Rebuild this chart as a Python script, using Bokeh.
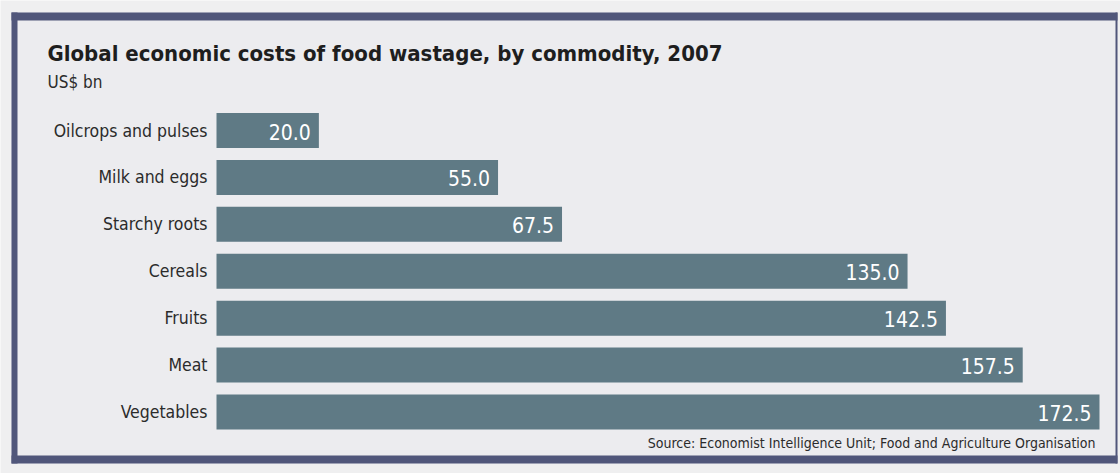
from bokeh.plotting import figure
from bokeh.models import Range1d, Label, ColumnDataSource
from bokeh.core.properties import value
from bokeh.embed import file_html
from bokeh.resources import INLINE

categories = ["Oilcrops and pulses", "Milk and eggs", "Starchy roots", "Cereals",
              "Fruits", "Meat", "Vegetables"]
costs = [20.0, 55.0, 67.5, 135.0, 142.5, 157.5, 172.5]
value_labels = ["20.0", "55.0", "67.5", "135.0", "142.5", "157.5", "172.5"]
title_text = "Global economic costs of food wastage, by commodity, 2007"
subtitle_text = "US$ bn"
source_text = "Source: Economist Intelligence Unit; Food and Agriculture Organisation"

W, H = 1120, 473
X0_PX, XMAX_PX = 216, 1099          # pixel of 0 and of max value
sx = (XMAX_PX - X0_PX) / max(costs)  # px per unit
Y0_PX, PITCH = 130.0, 46.92          # pixel centre of first bar, spacing

def px2x(px):
    return (px - X0_PX) / sx

def px2y(py):
    return (py - Y0_PX) / PITCH

FONT = "DejaVu Sans Condensed"
BAR = "#5f7a85"
FRAME = "#50567a"

p = figure(width=W, height=H, output_backend="svg", toolbar_location=None,
           x_range=Range1d(px2x(0), px2x(W)), y_range=Range1d(px2y(H), px2y(0)),
           min_border=0, min_border_left=0, min_border_right=0,
           min_border_top=0, min_border_bottom=0)
p.axis.visible = False
p.grid.visible = False
p.outline_line_color = None
p.background_fill_color = "#efeff0"
p.border_fill_color = "#efeff0"

# panel background and frame
p.quad(left=px2x(11), right=px2x(1117), top=px2y(12), bottom=px2y(463),
       fill_color="#ececef", line_color=None)
for l, r, t, b in [(11, 1117, 12, 20), (11, 1117, 455, 463), (11, 17, 12, 463), (1115, 1117, 12, 463)]:
    p.quad(left=px2x(l), right=px2x(r), top=px2y(t), bottom=px2y(b),
           fill_color=FRAME, line_color=None)

idx = list(range(len(categories)))
src = ColumnDataSource(dict(y=idx, cost=costs, cat=categories, lab=value_labels,
                            zero=[0] * len(costs)))

p.hbar(y="y", left="zero", right="cost", height=35 / PITCH, source=src,
       fill_color=BAR, line_color=None)

p.text(x="zero", y="y", text="cat", source=src, text_align="right",
       text_baseline="middle", x_offset=-9, text_font=value(FONT),
       text_font_size="17.5px", text_color="#2b2b2b")
p.text(x="cost", y="y", text="lab", source=src, text_align="right",
       text_baseline="middle", x_offset=-8, y_offset=1, text_font=value(FONT),
       text_font_size="21px", text_color="#ffffff")

p.add_layout(Label(x=px2x(47), y=px2y(53), text=title_text, text_font=FONT,
                   text_font_size="22px", text_font_style="bold", text_color="#1e1e1e",
                   text_baseline="middle", text_align="left"))
p.add_layout(Label(x=px2x(47), y=px2y(81), text=subtitle_text, text_font=FONT,
                   text_font_size="17px", text_color="#2b2b2b",
                   text_baseline="middle", text_align="left"))
p.add_layout(Label(x=px2x(1095), y=px2y(442), text=source_text, text_font=FONT,
                   text_font_size="14px", text_color="#2b2b2b",
                   text_baseline="middle", text_align="right"))

open("out.html", "w").write(file_html(p, INLINE))
